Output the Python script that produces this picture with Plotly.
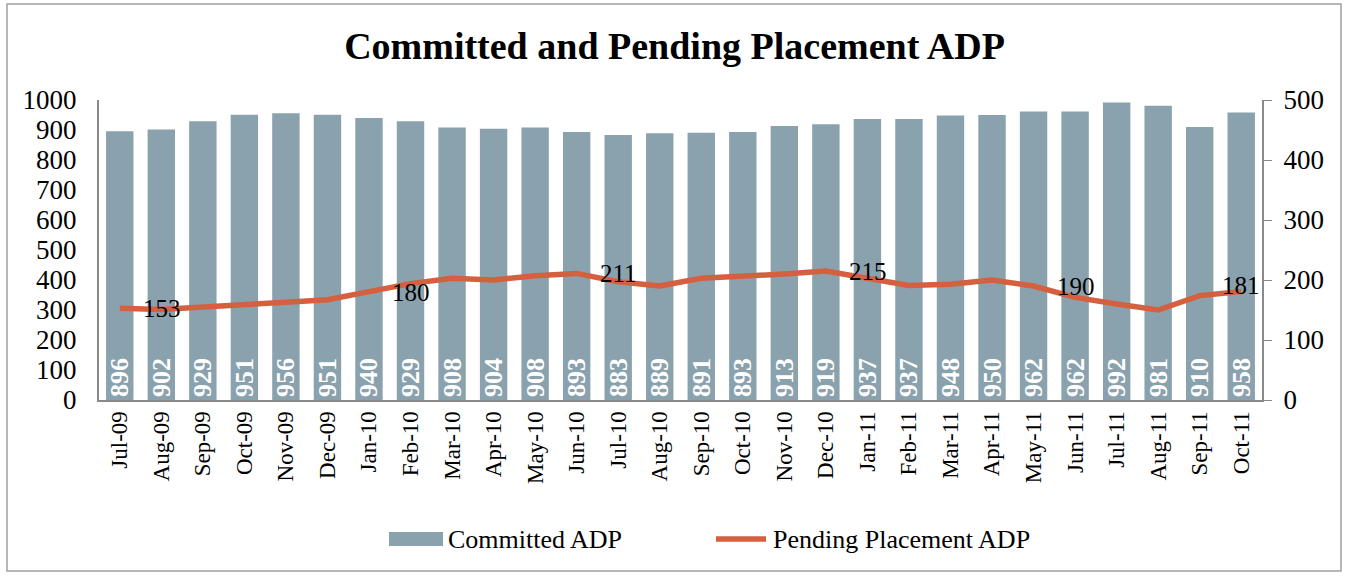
import plotly.graph_objects as go

months = ["Jul-09","Aug-09","Sep-09","Oct-09","Nov-09","Dec-09","Jan-10","Feb-10","Mar-10","Apr-10",
          "May-10","Jun-10","Jul-10","Aug-10","Sep-10","Oct-10","Nov-10","Dec-10","Jan-11","Feb-11",
          "Mar-11","Apr-11","May-11","Jun-11","Jul-11","Aug-11","Sep-11","Oct-11"]
committed = [896,902,929,951,956,951,940,929,908,904,908,893,883,889,891,893,913,919,937,937,
             948,950,962,962,992,981,910,958]
pending = [153,151,155,160,163,167,180,194,203,200,207,211,197,190,203,206,210,215,202,191,
           193,200,190,171,160,150,174,181]
labeled_idx = [0, 6, 11, 17, 22, 27]
series_names = ["Committed ADP", "Pending Placement ADP"]

serif = "Liberation Serif"
bar_color = "#8AA2AE"
line_color = "#D4603F"
axis_color = "#898989"

# plot area in pixels (for converting layout decorations to paper coords)
W, H = 1349, 577
L, R, T, B = 99, 87, 100, 177
pw, ph = W - L - R, H - T - B
def px_x(x):
    return (x - L) / pw
def px_y(y):
    return (H - B - y) / ph

fig = go.Figure()
fig.add_trace(go.Bar(
    x=months, y=committed, name=series_names[0],
    marker=dict(color=bar_color, line=dict(width=0)),
    text=[str(v) for v in committed], textposition="inside", insidetextanchor="start",
    textangle=-90, textfont=dict(family=serif, size=26, color="white", weight="bold"),
    constraintext="none", cliponaxis=False, showlegend=False,
))
fig.add_trace(go.Scatter(
    x=months, y=pending, name=series_names[1], yaxis="y2",
    mode="lines", line=dict(color=line_color, width=5.5),
    cliponaxis=False, showlegend=False,
))

shapes = [
    dict(type="rect", xref="paper", yref="paper",
         x0=px_x(7), x1=px_x(1341), y0=px_y(571), y1=px_y(4),
         line=dict(color="#A0A0A0", width=1.5), fillcolor="rgba(0,0,0,0)", layer="below"),
    # legend symbols
    dict(type="rect", xref="paper", yref="paper",
         x0=px_x(389), x1=px_x(443), y0=px_y(546), y1=px_y(532),
         line=dict(width=0), fillcolor=bar_color),
    dict(type="line", xref="paper", yref="paper",
         x0=px_x(716), x1=px_x(766), y0=px_y(539), y1=px_y(539),
         line=dict(color=line_color, width=5.5)),
]
annotations = [
    dict(text=series_names[0], xref="paper", yref="paper", x=px_x(446), y=px_y(539),
         xanchor="left", yanchor="middle", showarrow=False,
         font=dict(family=serif, size=26, color="black")),
    dict(text=series_names[1], xref="paper", yref="paper", x=px_x(771), y=px_y(539),
         xanchor="left", yanchor="middle", showarrow=False,
         font=dict(family=serif, size=26, color="black")),
]
# data labels of the pending line (read from the data lists)
for i in labeled_idx:
    last = i == len(months) - 1
    annotations.append(dict(
        text=str(pending[i]), x=months[i], y=pending[i], xref="x", yref="y2",
        xanchor="center" if last else "left", yanchor="middle",
        xshift=0 if last else 21, yshift=6 if last else 0, showarrow=False,
        font=dict(family=serif, size=25, color="black"),
    ))

fig.update_layout(
    width=W, height=H,
    margin=dict(l=L, r=R, t=T, b=B, autoexpand=False),
    paper_bgcolor="white", plot_bgcolor="white",
    font=dict(family=serif, size=26, color="black"),
    title=dict(text="<b>Committed and Pending Placement ADP</b>", x=0.5, xanchor="center",
               y=0.92, yanchor="middle", font=dict(family=serif, size=38, color="black")),
    bargap=0.34,
    showlegend=False,
    xaxis=dict(tickangle=-90, showline=True, linecolor=axis_color, linewidth=2,
               range=[-0.5, len(months) - 0.5], autorange=False,
               ticks="", tickfont=dict(family=serif, size=23), showgrid=False, automargin=False),
    yaxis=dict(range=[0, 1000], dtick=100, showline=True, linecolor=axis_color, linewidth=2,
               ticks="", showgrid=False, zeroline=False, automargin=False, ticklabelstandoff=15,
               tickfont=dict(family=serif, size=27)),
    yaxis2=dict(range=[0, 500], dtick=100, overlaying="y", side="right", showline=True,
                linecolor=axis_color, linewidth=2, ticks="outside", ticklen=8, tickcolor=axis_color,
                showgrid=False, zeroline=False, automargin=False, ticklabelstandoff=6,
                tickfont=dict(family=serif, size=27)),
    shapes=shapes,
    annotations=annotations,
)

fig.write_html("out.html", config={"displayModeBar": False},
               post_script="document.body.style.margin='0';")
